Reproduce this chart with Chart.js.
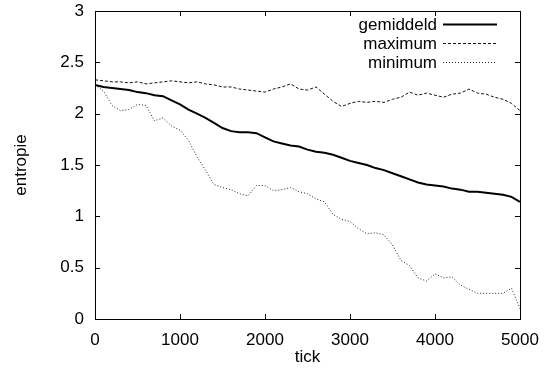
<!DOCTYPE html>
<html>
<head>
    <title>entropie per tick</title>
    <script src="https://cdn.jsdelivr.net/npm/chart.js"></script>
    <style>
        html, body { margin: 0; padding: 0; background: #fff; }
        #wrap { width: 546px; height: 377px; }
    </style>
</head>
<body>
    <div id="wrap"><canvas id="entropyChart"></canvas></div>

    <script>
        const ticks = [0, 100, 200, 300, 400, 500, 600, 700, 800, 900,
            1000, 1100, 1200, 1300, 1400, 1500, 1600, 1700, 1800, 1900,
            2000, 2100, 2200, 2300, 2400, 2500, 2600, 2700, 2800, 2900,
            3000, 3100, 3200, 3300, 3400, 3500, 3600, 3700, 3800, 3900,
            4000, 4100, 4200, 4300, 4400, 4500, 4600, 4700, 4800, 4900, 5000];

        const gemiddeld = [2.28, 2.26, 2.25, 2.24, 2.23, 2.21, 2.20, 2.18, 2.17, 2.13,
            2.09, 2.04, 2.00, 1.96, 1.91, 1.86, 1.83, 1.82, 1.82, 1.81,
            1.77, 1.73, 1.71, 1.69, 1.68, 1.65, 1.63, 1.62, 1.60, 1.57,
            1.54, 1.52, 1.50, 1.47, 1.45, 1.42, 1.39, 1.36, 1.33, 1.31,
            1.30, 1.29, 1.27, 1.26, 1.24, 1.24, 1.23, 1.22, 1.21, 1.19, 1.14];

        const maximum = [2.33, 2.32, 2.31, 2.31, 2.30, 2.31, 2.29, 2.30, 2.31, 2.32,
            2.31, 2.30, 2.31, 2.29, 2.28, 2.26, 2.26, 2.24, 2.23, 2.22,
            2.21, 2.24, 2.26, 2.29, 2.24, 2.23, 2.26, 2.19, 2.12, 2.07,
            2.10, 2.12, 2.11, 2.12, 2.11, 2.14, 2.16, 2.21, 2.18, 2.20,
            2.18, 2.16, 2.19, 2.20, 2.24, 2.20, 2.19, 2.16, 2.14, 2.10, 2.03];

        const minimum = [2.28, 2.22, 2.08, 2.03, 2.04, 2.09, 2.08, 1.93, 1.96, 1.88,
            1.84, 1.74, 1.58, 1.45, 1.31, 1.28, 1.26, 1.22, 1.20, 1.30,
            1.30, 1.25, 1.26, 1.28, 1.24, 1.22, 1.17, 1.14, 1.02, 0.97,
            0.95, 0.88, 0.83, 0.84, 0.82, 0.72, 0.57, 0.52, 0.40, 0.37,
            0.44, 0.40, 0.41, 0.33, 0.29, 0.25, 0.25, 0.25, 0.25, 0.30, 0.10];

        const FONT = 'Liberation Sans, Arial, sans-serif';
        const FONT_SIZE = 17;

        function pts(values) {
            return ticks.map((t, i) => ({ x: t, y: values[i] }));
        }

        // gnuplot-style box: frame, inward ticks on all four sides, legend top right
        const framePlugin = {
            id: 'frame',
            afterDatasetsDraw(chart) {
                const { ctx, chartArea: a, scales } = chart;
                const len = 5;
                ctx.save();
                ctx.strokeStyle = '#000';
                ctx.lineWidth = 1;
                ctx.strokeRect(a.left + 0.5, a.top + 0.5, a.right - a.left, a.bottom - a.top);
                ctx.beginPath();
                scales.x.ticks.forEach(t => {
                    const px = Math.round(scales.x.getPixelForValue(t.value)) + 0.5;
                    ctx.moveTo(px, a.bottom); ctx.lineTo(px, a.bottom - len);
                    ctx.moveTo(px, a.top); ctx.lineTo(px, a.top + len);
                });
                scales.y.ticks.forEach(t => {
                    const py = Math.round(scales.y.getPixelForValue(t.value)) + 0.5;
                    ctx.moveTo(a.left, py); ctx.lineTo(a.left + len, py);
                    ctx.moveTo(a.right, py); ctx.lineTo(a.right - len, py);
                });
                ctx.stroke();

                // legend: label right-aligned, line sample to its right
                const textRight = 437, sx0 = 443, sx1 = 497;
                const rows = [24, 43, 62];
                ctx.font = FONT_SIZE + 'px ' + FONT;
                ctx.textAlign = 'right';
                ctx.textBaseline = 'middle';
                chart.data.datasets.forEach((ds, i) => {
                    const y = rows[i];
                    ctx.fillStyle = '#000';
                    ctx.fillText(ds.label, textRight, y + 1);
                    ctx.beginPath();
                    ctx.strokeStyle = ds.borderColor;
                    ctx.lineWidth = ds.borderWidth;
                    ctx.setLineDash(ds.borderDash || []);
                    ctx.moveTo(sx0, y + 0.5);
                    ctx.lineTo(sx1, y + 0.5);
                    ctx.stroke();
                });
                ctx.restore();
            }
        };

        const ctx = document.getElementById('entropyChart').getContext('2d');
        const chart = new Chart(ctx, {
            type: 'line',
            data: {
                datasets: [{
                    label: 'gemiddeld',
                    data: pts(gemiddeld),
                    borderColor: '#000',
                    borderWidth: 2,
                    pointRadius: 0,
                    tension: 0
                }, {
                    label: 'maximum',
                    data: pts(maximum),
                    borderColor: '#111',
                    borderWidth: 1,
                    borderDash: [3, 2],
                    pointRadius: 0,
                    tension: 0
                }, {
                    label: 'minimum',
                    data: pts(minimum),
                    borderColor: '#222',
                    borderWidth: 1,
                    borderDash: [1, 2],
                    pointRadius: 0,
                    tension: 0
                }]
            },
            options: {
                responsive: true,
                maintainAspectRatio: false,
                animation: false,
                layout: { padding: { top: 11, right: 26, left: 0, bottom: 0 } },
                plugins: {
                    legend: { display: false },
                    tooltip: { enabled: false }
                },
                scales: {
                    x: {
                        type: 'linear',
                        min: 0,
                        max: 5000,
                        border: { display: false },
                        grid: { display: false, drawTicks: false },
                        ticks: {
                            stepSize: 1000,
                            padding: 11,
                            color: '#000',
                            maxRotation: 0,
                            font: { family: FONT, size: FONT_SIZE },
                            callback: v => String(v)
                        },
                        title: {
                            display: true,
                            text: 'tick',
                            color: '#000',
                            padding: { top: 0, bottom: 9 },
                            font: { family: FONT, size: FONT_SIZE }
                        },
                        afterFit: s => {
                            s.height = 58;
                            s.paddingLeft = 0;
                            s.paddingRight = 0;
                        }
                    },
                    y: {
                        min: 0,
                        max: 3,
                        border: { display: false },
                        grid: { display: false, drawTicks: false },
                        ticks: {
                            stepSize: 0.5,
                            padding: 11,
                            color: '#000',
                            font: { family: FONT, size: FONT_SIZE },
                            callback: v => String(v)
                        },
                        title: {
                            display: true,
                            text: 'entropie',
                            color: '#000',
                            padding: { top: 11, bottom: 0 },
                            font: { family: FONT, size: FONT_SIZE }
                        },
                        afterFit: s => {
                            s.width = 95;
                            s.paddingTop = 0;
                            s.paddingBottom = 0;
                        }
                    }
                }
            },
            plugins: [framePlugin]
        });
    </script>
</body>
</html>
